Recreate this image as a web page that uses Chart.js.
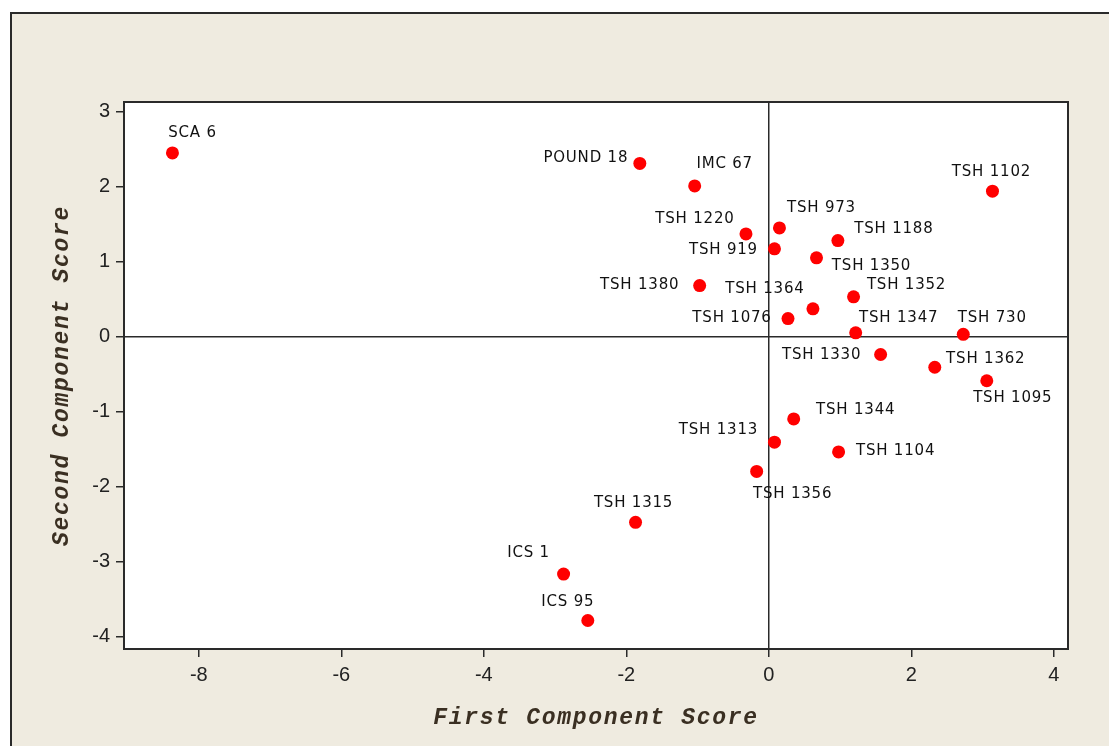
<!DOCTYPE html>
<html>
<head>
<meta charset="utf-8">
<script src="https://cdn.jsdelivr.net/npm/chart.js@4/dist/chart.umd.min.js"></script>
<style>
  html, body { margin: 0; padding: 0; background: #ffffff; }
  #wrap { width: 1109px; height: 746px; }
</style>
</head>
<body>
<div id="wrap"><canvas id="pcaChart" width="1109" height="746"></canvas></div>
<script>
// genotype names and their first / second component scores
var genotypes = ["SCA 6", "POUND 18", "IMC 67", "TSH 1220", "TSH 973", "TSH 919", "TSH 1188",
    "TSH 1350", "TSH 1380", "TSH 1364", "TSH 1352", "TSH 1076", "TSH 1347", "TSH 730",
    "TSH 1330", "TSH 1362", "TSH 1095", "TSH 1344", "TSH 1313", "TSH 1104", "TSH 1356",
    "TSH 1315", "ICS 1", "ICS 95", "TSH 1102"];
var firstScore = [-8.37, -1.81, -1.04, -0.32, 0.15, 0.08, 0.97,
    0.67, -0.97, 0.62, 1.19, 0.27, 1.22, 2.73,
    1.57, 2.33, 3.06, 0.35, 0.08, 0.98, -0.17,
    -1.87, -2.88, -2.54, 3.14];
var secondScore = [2.45, 2.31, 2.01, 1.37, 1.45, 1.17, 1.28,
    1.05, 0.68, 0.37, 0.53, 0.24, 0.05, 0.03,
    -0.24, -0.41, -0.59, -1.10, -1.41, -1.54, -1.80,
    -2.48, -3.17, -3.79, 1.94];
var xTicks = [-8, -6, -4, -2, 0, 2, 4];
var yTicks = [-4, -3, -2, -1, 0, 1, 2, 3];

// label placement (text centre relative to the dot, px)
var labelOffset = [[20, -20], [-54, -5], [30, -22], [-51, -15], [42, -20], [-51, 1], [56, -12],
    [55, 8], [-60, 0], [-48, -20], [53, -12], [-56, 0], [43, -15], [29, -16],
    [-59, 1], [51, -8], [26, 17], [62, -9], [-56, -12], [57, -1], [36, 23],
    [-2, -19], [-35, -21], [-20, -18], [-1, -19]];

var points = [];
for (var i = 0; i < genotypes.length; i++) {
    points.push({ x: firstScore[i], y: secondScore[i] });
}

var frameColor = "#2a2a2a";
var titleColor = "#3a2f22";

var backgroundPlugin = {
    id: "panelBackground",
    beforeDraw: function (chart) {
        var ctx = chart.ctx, a = chart.chartArea;
        ctx.save();
        ctx.fillStyle = "#ffffff";
        ctx.fillRect(0, 0, chart.width, chart.height);
        ctx.fillStyle = "#efebe0";
        ctx.fillRect(10, 12, chart.width, chart.height);
        ctx.strokeStyle = frameColor;
        ctx.lineWidth = 2;
        ctx.beginPath();
        ctx.moveTo(11, chart.height + 5);
        ctx.lineTo(11, 13);
        ctx.lineTo(chart.width + 5, 13);
        ctx.stroke();
        ctx.fillStyle = "#ffffff";
        ctx.fillRect(a.left, a.top, a.right - a.left, a.bottom - a.top);
        ctx.restore();
    },
    afterDraw: function (chart) {
        var ctx = chart.ctx, a = chart.chartArea;
        ctx.save();
        ctx.strokeStyle = frameColor;
        ctx.lineWidth = 2;
        ctx.strokeRect(a.left, a.top, a.right - a.left, a.bottom - a.top);

        // axis titles
        ctx.fillStyle = titleColor;
        ctx.font = "italic bold 23px 'Liberation Mono'";
        ctx.letterSpacing = "1.7px";
        ctx.textAlign = "center";
        ctx.textBaseline = "middle";
        ctx.fillText("First Component Score", (a.left + a.right) / 2, 718);
        ctx.translate(62, (a.top + a.bottom) / 2);
        ctx.rotate(-Math.PI / 2);
        ctx.fillText("Second Component Score", 0, 0);
        ctx.restore();
    }
};

var labelPlugin = {
    id: "pointLabels",
    afterDatasetsDraw: function (chart) {
        var ctx = chart.ctx;
        var meta = chart.getDatasetMeta(0);
        ctx.save();
        ctx.font = "15px 'DejaVu Sans'";
        ctx.letterSpacing = "0.8px";
        ctx.fillStyle = "#111111";
        ctx.textAlign = "center";
        ctx.textBaseline = "middle";
        meta.data.forEach(function (pt, idx) {
            var off = labelOffset[idx];
            ctx.fillText(genotypes[idx], pt.x + off[0], pt.y + off[1]);
        });
        ctx.restore();
    }
};

function zeroLine(c) {
    return c.tick && c.tick.value === 0 ? frameColor : "rgba(0,0,0,0)";
}

var pcaCanvas = document.getElementById("pcaChart").getContext("2d");
new Chart(pcaCanvas, {
    type: "scatter",
    data: {
        datasets: [{
            label: "Genotypes",
            data: points,
            backgroundColor: "#ff0000",
            borderWidth: 0,
            pointRadius: 6.5,
            pointHoverRadius: 6.5
        }]
    },
    options: {
        responsive: false,
        animation: false,
        events: [],
        layout: { padding: { left: 0, top: 102, right: 41, bottom: 0 } },
        plugins: {
            legend: { display: false },
            tooltip: { enabled: false }
        },
        scales: {
            x: {
                type: "linear",
                min: -9.05,
                max: 4.2,
                afterFit: function (scale) { scale.height = 746 - 649; },
                afterBuildTicks: function (scale) {
                    scale.ticks = xTicks.map(function (v) { return { value: v }; });
                },
                ticks: { color: "#222222", font: { family: "Liberation Sans", size: 20 }, padding: 6 },
                grid: { color: zeroLine, lineWidth: 1.5, tickColor: frameColor, tickLength: 8, tickWidth: 1.5 },
                border: { display: false }
            },
            y: {
                type: "linear",
                min: -4.17,
                max: 3.13,
                afterFit: function (scale) { scale.width = 124; },
                afterBuildTicks: function (scale) {
                    scale.ticks = yTicks.map(function (v) { return { value: v }; });
                },
                ticks: { color: "#222222", font: { family: "Liberation Sans", size: 20 }, padding: 6 },
                grid: { color: zeroLine, lineWidth: 1.5, tickColor: frameColor, tickLength: 8, tickWidth: 1.5 },
                border: { display: false }
            }
        }
    },
    plugins: [backgroundPlugin, labelPlugin]
});
</script>
</body>
</html>
